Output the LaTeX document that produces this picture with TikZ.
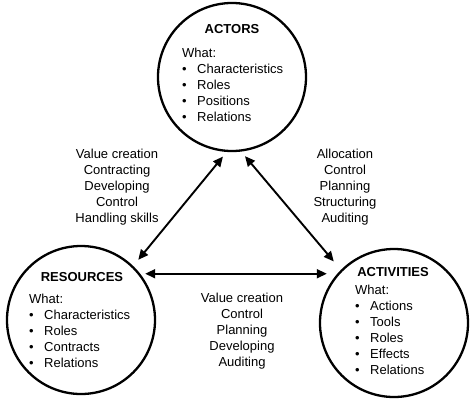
\documentclass[tikz,border=0pt]{standalone}
\usepackage{fontspec}
\setmainfont{Liberation Sans}
\usetikzlibrary{arrows.meta,calc}
\newcommand\itm{\makebox[15pt][l]{•}}
\begin{document}
\begin{tikzpicture}[x=1pt,y=-1pt,
  circ/.style={circle,draw,line width=2.3pt,minimum size=148pt,inner sep=0pt},
  arr/.style={line width=1.9pt,{Triangle[length=10pt,width=9pt]}-{Triangle[length=10pt,width=9pt]}},
  ttl/.style={font=\fontsize{13}{16}\selectfont\bfseries,inner sep=0pt},
  lst/.style={font=\fontsize{13}{16}\selectfont,inner sep=0pt,anchor=base west},
  lbl/.style={font=\fontsize{13}{16}\selectfont,inner sep=0pt,anchor=base}]
\useasboundingbox (0,0) rectangle (474,400);
\node[circ] (act) at (232,77) {};
\node[circ] (res) at (81,320) {};
\node[circ] (acv) at (394,323) {};
% titles
\node[ttl] (actt) at (232,29) {ACTORS};
\node[ttl] (rest) at (82,277) {RESOURCES};
\node[ttl] (acvt) at (393,272) {ACTIVITIES};
% lists
\node[lst] (actl) at (182,57.5) {\begin{tabular}[t]{@{}l@{}}What:\\ \itm Characteristics\\ \itm Roles\\ \itm Positions\\ \itm Relations\end{tabular}};
\node[lst] (resl) at (29,303.5) {\begin{tabular}[t]{@{}l@{}}What:\\ \itm Characteristics\\ \itm Roles\\ \itm Contracts\\ \itm Relations\end{tabular}};
\node[lst] (acvl) at (355,294.5) {\begin{tabular}[t]{@{}l@{}}What:\\ \itm Actions\\ \itm Tools\\ \itm Roles\\ \itm Effects\\ \itm Relations\end{tabular}};
% connector labels
\node[lbl] (ll) at (117,158.5) {\begin{tabular}[t]{@{}c@{}}Value creation\\ Contracting\\ Developing\\ Control\\ Handling skills\end{tabular}};
\node[lbl] (rl) at (345,158.5) {\begin{tabular}[t]{@{}c@{}}Allocation\\ Control\\ Planning\\ Structuring\\ Auditing\end{tabular}};
\node[lbl] (bl) at (242,302.5) {\begin{tabular}[t]{@{}c@{}}Value creation\\ Control\\ Planning\\ Developing\\ Auditing\end{tabular}};
% connectors
\draw[arr,shorten <=6pt,shorten >=8pt] (act.266) -- (res.46);
\draw[arr,shorten <=6pt,shorten >=11pt] (act.277) -- (acv.135);
\draw[arr,shorten <=5pt,shorten >=8pt] (res.38) -- (res.38 -| acv.142);
\end{tikzpicture}
\end{document}
